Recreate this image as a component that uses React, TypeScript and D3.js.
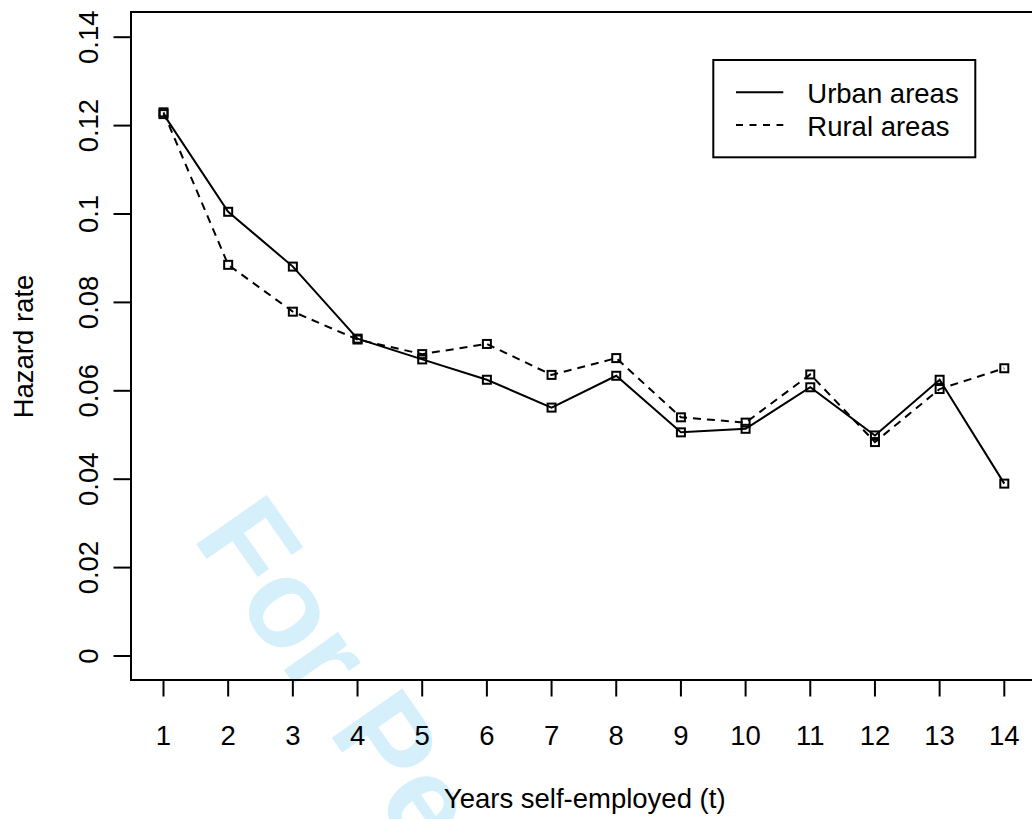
import React from "react";
import * as d3 from "d3";

const years = [1, 2, 3, 4, 5, 6, 7, 8, 9, 10, 11, 12, 13, 14];
const urban = [0.1226, 0.1005, 0.0881, 0.0718, 0.0671, 0.0625, 0.0562, 0.0634, 0.0506, 0.0514, 0.0608, 0.0499, 0.0625, 0.039];
const rural = [0.123, 0.0885, 0.0779, 0.0716, 0.0683, 0.0706, 0.0636, 0.0674, 0.054, 0.0528, 0.0637, 0.0484, 0.0604, 0.0651];
const yTicks = [0, 0.02, 0.04, 0.06, 0.08, 0.1, 0.12, 0.14];
const yTickLabels = ["0", "0.02", "0.04", "0.06", "0.08", "0.1", "0.12", "0.14"];
const seriesNames = ["Urban areas", "Rural areas"];
const xTitle = "Years self-employed (t)";
const yTitle = "Hazard rate";
const watermark = "For Peer Review";

const W = 1032;
const H = 819;
const FONT = "'Liberation Sans', Arial, Helvetica, sans-serif";
const FS = 27.5;

export default function App() {
  const x = d3.scaleLinear().domain([1, 14]).range([163.5, 1004.3]);
  const y = d3.scaleLinear().domain([0, 0.14]).range([656, 37.2]);
  const box = { x0: 131, y0: 12, x1: 1038, y1: 680 };
  const line = d3
    .line<number>()
    .x((_, i) => x(years[i]))
    .y((d) => y(d));
  const series = [
    { vals: urban, dash: undefined as string | undefined },
    { vals: rural, dash: "8,6" },
  ];
  const sq = 8;
  return (
    <svg
      width={W}
      height={H}
      style={{ position: "absolute", left: 0, top: 0, background: "#fff" }}
      fontFamily={FONT}
    >
      <rect x={0} y={0} width={W} height={H} fill="#fff" />
      {/* watermark */}
      <text
        transform="translate(191.5,537.6) rotate(55)"
        fontSize={125}
        fontWeight="bold"
        fill="#d5effb"
      >
        {watermark}
      </text>
      {/* plot box */}
      <rect
        x={box.x0}
        y={box.y0}
        width={box.x1 - box.x0}
        height={box.y1 - box.y0}
        fill="none"
        stroke="#000"
        strokeWidth={2}
      />
      {/* y axis ticks */}
      {yTicks.map((t, i) => (
        <g key={"y" + i}>
          <line x1={box.x0 - 17.5} x2={box.x0} y1={y(t)} y2={y(t)} stroke="#000" strokeWidth={2} />
          <text
            transform={`translate(98,${y(t)}) rotate(-90)`}
            textAnchor="middle"
            fontSize={FS}
            fill="#000"
          >
            {yTickLabels[i]}
          </text>
        </g>
      ))}
      {/* x axis ticks */}
      {years.map((t) => (
        <g key={"x" + t}>
          <line x1={x(t)} x2={x(t)} y1={box.y1} y2={box.y1 + 16.5} stroke="#000" strokeWidth={2} />
          <text x={x(t)} y={745} textAnchor="middle" fontSize={FS} fill="#000">
            {String(t)}
          </text>
        </g>
      ))}
      {/* axis titles */}
      <text x={584.7} y={808} textAnchor="middle" fontSize={FS} fill="#000">
        {xTitle}
      </text>
      <text
        transform={`translate(33,346.5) rotate(-90)`}
        textAnchor="middle"
        fontSize={FS}
        fill="#000"
      >
        {yTitle}
      </text>
      {/* series */}
      {series.map((s, si) => (
        <g key={"s" + si}>
          <path
            d={line(s.vals) || ""}
            fill="none"
            stroke="#000"
            strokeWidth={2}
            strokeDasharray={s.dash}
          />
          {s.vals.map((v, i) => (
            <rect
              key={i}
              x={x(years[i]) - sq / 2}
              y={y(v) - sq / 2}
              width={sq}
              height={sq}
              fill="none"
              stroke="#000"
              strokeWidth={2}
            />
          ))}
        </g>
      ))}
      {/* legend */}
      <rect x={713.3} y={60} width={262} height={97.3} fill="#fff" stroke="#000" strokeWidth={2} />
      {seriesNames.map((n, i) => (
        <g key={"l" + i}>
          <line
            x1={736}
            x2={783.3}
            y1={92.3 + i * 32.7}
            y2={92.3 + i * 32.7}
            stroke="#000"
            strokeWidth={2}
            strokeDasharray={series[i].dash ? "7,6.5" : undefined}
          />
          <text x={807.3} y={103.3 + i * 32.7} fontSize={FS} fill="#000">
            {n}
          </text>
        </g>
      ))}
    </svg>
  );
}
